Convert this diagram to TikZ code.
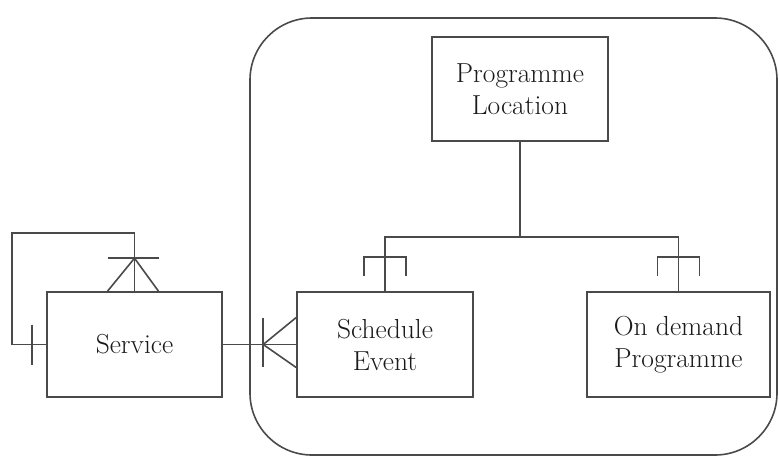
\documentclass[tikz,border=0pt]{standalone}
\usepackage{fontspec}
\usetikzlibrary{calc}
\definecolor{ln}{HTML}{4A4A4A}
\definecolor{tx}{HTML}{1A1A1A}
\begin{document}
\begin{tikzpicture}[x=1pt,y=-1pt,
  ent/.style={draw=ln,line width=1.6pt,fill=white,align=center,text=tx,
    font=\fontsize{27.5}{32}\selectfont,inner sep=0pt},
  lnk/.style={draw=ln,line width=1.6pt}]
\useasboundingbox (0,0) rectangle (779,456);
\fill[white] (0,0) rectangle (779,456);
\draw[lnk,rounded corners=62] (250,18) rectangle (777,455);
\node[ent,minimum width=176,minimum height=104] (PL) at (520,89) {Programme\\Location};
\node[ent,minimum width=175,minimum height=105] (SV) at (134.5,344.5) {Service};
\node[ent,minimum width=176,minimum height=105] (SE) at (385,344.5) {Schedule\\Event};
\node[ent,minimum width=183,minimum height=105] (OD) at (678.5,344.5) {On demand\\Programme};
\coordinate (j) at (520,237);
% subtype connectors
\draw[lnk] (PL.south) -- (j);
\draw[lnk] (SE.north) |- (j) -| (OD.north);
\draw[lnk] ($(SE.north)+(-21,-15)$) -- ++(0,-19) -- ++(42,0) -- ++(0,19);
\draw[lnk] ($(OD.north)+(-21,-15)$) -- ++(0,-19) -- ++(42,0) -- ++(0,19);
% self loop on Service
\coordinate (a) at ($(SV.north)+(0,-33)$);
\draw[lnk] (SV.north) -- ++(0,-58) -| ($(SV.west)+(-34,0)$) -- (SV.west);
\draw[lnk] ($(SV.north)+(-27,0)$) -- (a) -- ($(SV.north)+(24,0)$);
\draw[lnk] ($(a)+(-27,0)$) -- ($(a)+(24,0)$);
\draw[lnk] ($(SV.west)+(-14,-20)$) -- ($(SV.west)+(-14,20)$);
% Service to Schedule Event
\coordinate (c) at ($(SE.west)+(-33,0)$);
\draw[lnk] (SV.east) -- (SE.west);
\draw[lnk] ($(SE.west)+(0,-27)$) -- (c) -- ($(SE.west)+(0,23)$);
\draw[lnk] ($(c)+(0,-27)$) -- ($(c)+(0,22)$);
\end{tikzpicture}
\end{document}
